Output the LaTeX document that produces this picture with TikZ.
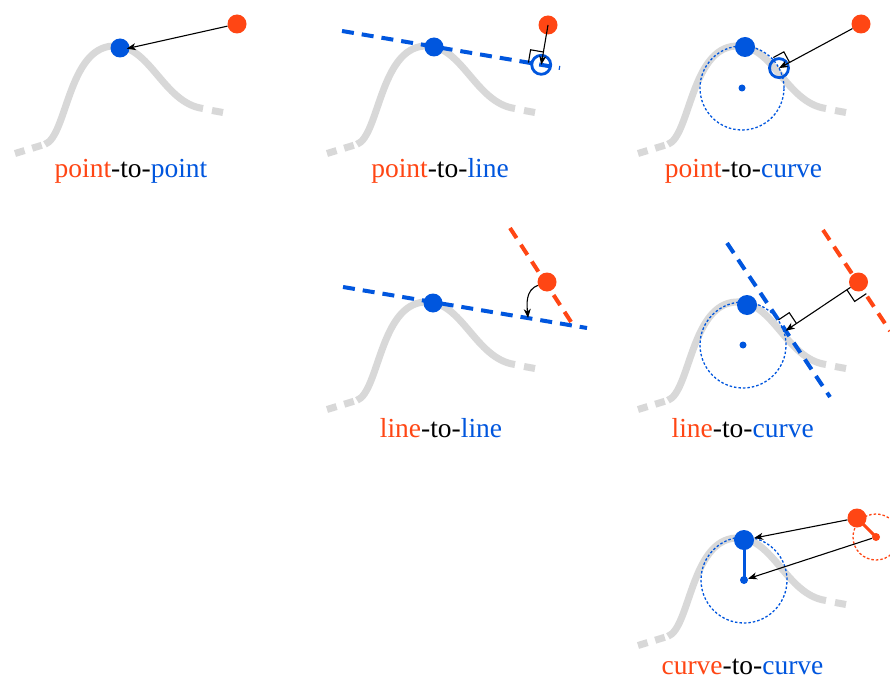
\documentclass[tikz,border=0pt]{standalone}
\usepackage{fontspec}
\setmainfont{Liberation Serif}
\usetikzlibrary{calc,arrows.meta}
\definecolor{cred}{RGB}{255,70,20}
\definecolor{cblue}{RGB}{0,86,222}
\definecolor{cgray}{RGB}{216,216,216}
\tikzset{
 dotred/.style={circle,fill=cred,inner sep=0pt,minimum size=19pt},
 dotblue/.style={circle,fill=cblue,inner sep=0pt,minimum size=19pt},
 smallblue/.style={circle,fill=cblue,inner sep=0pt,minimum size=7pt},
 smallred/.style={circle,fill=cred,inner sep=0pt,minimum size=8pt},
 openblue/.style={circle,draw=cblue,line width=2.8pt,inner sep=0pt,minimum size=19pt},
 arr/.style={-{Stealth[length=9pt,width=7pt,inset=2.5pt]},line width=1.1pt,black},
 bluedash/.style={cblue,line width=4pt,dash pattern=on 12pt off 8pt},
 reddash/.style={cred,line width=4pt,dash pattern=on 12pt off 8pt},
 bluedot/.style={cblue,line width=1.3pt,dash pattern=on 2.5pt off 2pt},
 reddot/.style={cred,line width=1.3pt,dash pattern=on 2.5pt off 2pt},
 rightmark/.style={black,line width=1.1pt},
 lbl/.style={font=\fontsize{27.5}{30}\selectfont,anchor=base,inner sep=0pt},
 graysolid/.style={cgray,line width=7pt},
 graydash/.style={cgray,line width=7pt,dash pattern=on 10pt off 8pt},
}
\newcommand\grayshape{%
 \draw[graydash] (15,153.5) -- (46,144);
 \draw[graysolid] (45,144.3) .. controls (67,136) and (68,48) .. (113,46) .. controls (150,44) and (163,103) .. (203,108.5);
 \draw[graysolid] (212,110.5) -- (223,112.5);
}
\begin{document}
\begin{tikzpicture}[x=1pt,y=-1pt]
\path[use as bounding box,fill=white] (0,0) rectangle (890,679);

% ---------- panel 1: point-to-point
\begin{scope}\grayshape\end{scope}
\node[dotblue] (B1) at (120,48) {};
\node[dotred] (R1) at (237,24) {};
\draw[arr,shorten >=-3pt] (R1) -- (B1.east);
\node[lbl] (L1) at (131,177) {{\color{cred}point}-to-{\color{cblue}point}};

% ---------- panel 2: point-to-line
\begin{scope}[shift={(312,0)}]\grayshape\end{scope}
\coordinate (A2) at (342,31);
\coordinate (E2) at (560,68);
\draw[bluedash] (A2) -- (E2);
\node[dotblue] (B2) at (434,47) {};
\node[dotred] (R2) at (548,25) {};
\coordinate (F2) at ($(A2)!(R2)!(E2)$);
\node[openblue] (O2) at (F2) {};
\coordinate (F2a) at ($(F2)!13pt!(R2)$);
\coordinate (F2b) at ($(F2)!13pt!90:(R2)$);
\draw[rightmark] (F2a) -- ($(F2a)+(F2b)-(F2)$) -- (F2b);
\draw[arr] (R2.center) -- (O2.center);
\node[lbl] (L2) at (440,177) {{\color{cred}point}-to-{\color{cblue}line}};

% ---------- panel 3: point-to-curve
\begin{scope}[shift={(623,0)}]\grayshape\end{scope}
\coordinate (c3) at (742,88);
\draw[bluedot] (c3) circle[radius=42pt];
\node[dotblue,minimum size=20pt] (B3) at (745,47) {};
\node[smallblue] (m3) at (c3) {};
\node[dotred] (R3) at (861,24) {};
\coordinate (F3) at ($(c3)!42pt!(R3)$);
\node[openblue] (O3) at (F3) {};
\coordinate (F3a) at ($(F3)!12pt!(R3)$);
\coordinate (F3b) at ($(F3)!12pt!90:(R3)$);
\draw[rightmark] (F3a) -- ($(F3a)+(F3b)-(F3)$) -- (F3b);
\draw[arr] (R3) -- (O3.center);
\node[lbl] (L3) at (743.5,177) {{\color{cred}point}-to-{\color{cblue}curve}};

% ---------- panel 4: line-to-line
\begin{scope}[shift={(312,256)}]\grayshape\end{scope}
\draw[bluedash] (343,287) coordinate (A4) -- (587,328) coordinate (E4);
\draw[reddash] (510,228) coordinate (A4r) -- (575,328) coordinate (E4r);
\node[dotblue] (B4) at (433,303) {};
\node[dotred] (R4) at (547,282) {};
\coordinate (T4) at (528,318);
\draw[arr] (R4) to[out=200,in=95] (T4);
\node[lbl] (L4) at (441,437) {{\color{cred}line}-to-{\color{cblue}line}};

% ---------- panel 5: line-to-curve
\begin{scope}[shift={(623,256)}]\grayshape\end{scope}
\coordinate (c5) at (743,345);
\draw[bluedot] (c5) circle[radius=43pt];
\draw[bluedash] (727,243) coordinate (A5) -- (830,397) coordinate (E5);
\draw[reddash] (823,230) coordinate (A5r) -- (890,331) coordinate (E5r);
\node[dotblue,minimum size=20pt] (B5) at (747,305) {};
\node[smallblue] (m5) at (c5) {};
\coordinate (R5c) at (858.5,282);
\coordinate (F5) at ($(A5)!(R5c)!(E5)$);
\coordinate (F5a) at ($(F5)!13pt!(R5c)$);
\coordinate (F5b) at ($(F5)!13pt!90:(R5c)$);
\draw[rightmark] (F5a) -- ($(F5a)+(F5b)-(F5)$) -- (F5b);
\coordinate (G5a) at ($(R5c)!14pt!(F5)$);
\coordinate (G5b) at ($(R5c)!14pt!90:(F5)$);
\draw[rightmark] (G5a) -- ($(G5a)+(G5b)-(R5c)$) -- (G5b);
\node[dotred] (R5) at (R5c) {};
\draw[arr] (R5) -- (F5);
\node[lbl] (L5) at (742.7,437) {{\color{cred}line}-to-{\color{cblue}curve}};

% ---------- panel 6: curve-to-curve
\begin{scope}[shift={(623,492)}]\grayshape\end{scope}
\coordinate (c6) at (744,580);
\coordinate (d6) at (876,537);
\draw[bluedot] (c6) circle[radius=43pt];
\draw[reddot] (d6) circle[radius=23pt];
\draw[cblue,line width=3pt] (744,540) -- (c6);
\draw[cred,line width=3pt] (857,518) -- (d6);
\node[dotblue,minimum size=20pt] (B6) at (744,540) {};
\node[smallblue,minimum size=8pt] (b6) at (c6) {};
\node[dotred] (R6) at (857,518) {};
\node[smallred] (r6) at (d6) {};
\draw[arr] (R6) -- (B6);
\draw[arr] (r6) -- (b6);
\node[lbl] (L6) at (742.5,674) {{\color{cred}curve}-to-{\color{cblue}curve}};
\end{tikzpicture}
\end{document}
